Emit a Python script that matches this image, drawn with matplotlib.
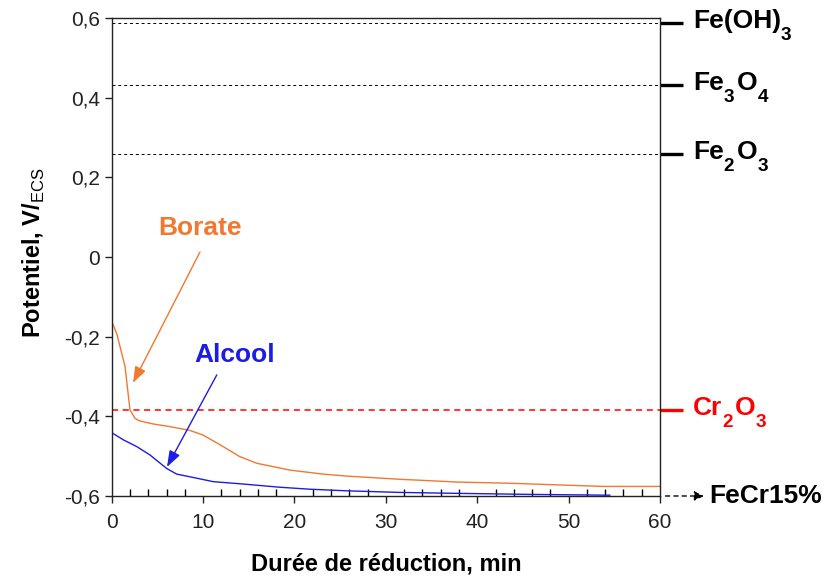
import matplotlib
matplotlib.use("Agg")
import matplotlib.pyplot as plt
import matplotlib.transforms as mtransforms

plt.rcParams['font.family'] = ['Liberation Sans', 'DejaVu Sans']
plt.rcParams['mathtext.fontset'] = 'custom'
plt.rcParams['mathtext.rm'] = 'Liberation Sans'
plt.rcParams['mathtext.bf'] = 'Liberation Sans:bold'

# potential vs. reduction time (min, V/ECS)
borate_t = [0, 0.55, 1.46, 2.0, 2.55, 3.0, 4.5, 6.4, 8.5, 10.0, 12.2, 14.0, 15.9,
            19.5, 23.1, 25.7, 31.5, 37.8, 43.6, 48.7, 53.8, 60]
borate_v = [-0.162, -0.192, -0.275, -0.384, -0.405, -0.411, -0.419, -0.426, -0.435,
            -0.447, -0.476, -0.501, -0.518, -0.535, -0.545, -0.550, -0.558, -0.565,
            -0.568, -0.572, -0.576, -0.576]

alcool_t = [0, 1.27, 2.74, 4.19, 6.02, 7.11, 9.66, 11.1, 14.4, 18.4, 21.7, 25.7,
            31.5, 36.7, 45.8, 54.5]
alcool_v = [-0.441, -0.459, -0.476, -0.497, -0.531, -0.545, -0.557, -0.564, -0.570,
            -0.578, -0.583, -0.587, -0.591, -0.593, -0.596, -0.598]

# equilibrium potentials of the oxides, formulas as (text, subscript) pieces
oxide_names = [[('Fe(OH)', False), ('3', True)],
               [('Fe', False), ('3', True), ('O', False), ('4', True)],
               [('Fe', False), ('2', True), ('O', False), ('3', True)],
               [('Cr', False), ('2', True), ('O', False), ('3', True)]]
oxide_v = [0.587, 0.432, 0.259, -0.384]
oxide_colors = ['black', 'black', 'black', 'red']

yticks = [-0.6, -0.4, -0.2, 0, 0.2, 0.4, 0.6]
ytick_labels = ['-0,6', '-0,4', '-0,2', '0', '0,2', '0,4', '0,6']
xticks = [0, 10, 20, 30, 40, 50, 60]

orange = '#f07830'
blue = '#1c1ce6'

fig = plt.figure(figsize=(8.38, 5.76), dpi=100)
ax = fig.add_axes([0.1333, 0.1389, 0.6543, 0.8298])
renderer = fig.canvas.get_renderer()


def chem_label(x, y, pieces, color, size, trans):
    # write a formula piece by piece, dropping the subscripts well below the baseline
    dx = 0
    for s, sub in pieces:
        fs = size * 0.72 if sub else size
        dy = -size * 0.55 if sub else 0
        t = ax.text(x, y, s, color=color, fontsize=fs, fontweight='bold',
                    va='center', ha='left',
                    transform=mtransforms.offset_copy(trans, fig, x=dx, y=dy,
                                                      units='points'))
        w = t.get_window_extent(renderer).width * 72 / fig.dpi
        dx += w + (size * 0.1 if sub else 0)


for v, c in zip(oxide_v, oxide_colors):
    if c == 'red':
        ax.axhline(v, color=c, lw=1.1, dashes=(4, 3))
    else:
        ax.axhline(v, color=c, lw=0.7, dashes=(3, 3))

ax.plot(borate_t, borate_v, color=orange, lw=1.0)
ax.plot(alcool_t, alcool_v, color=blue, lw=1.0)

ax.set_xlim(0, 60)
ax.set_ylim(-0.6, 0.6)
ax.set_xticks(xticks)
ax.set_xticks(range(0, 61, 2), minor=True)
ax.set_yticks(yticks)
ax.set_yticklabels(ytick_labels)
ax.tick_params(axis='both', which='major', direction='out', length=5, width=1,
               labelsize=15, colors='#222222')
ax.tick_params(axis='x', which='major', pad=7)
ax.tick_params(axis='x', which='minor', direction='in', length=5, width=1)
ax.tick_params(axis='y', which='minor', left=False)
for s in ax.spines.values():
    s.set_linewidth(1.0)
    s.set_color('#222222')

ax.set_xlabel('Durée de réduction, min', fontsize=17, fontweight='bold')
ax.xaxis.set_label_coords(0.5, -0.118)
ax.set_ylabel(r'Potentiel, V/$_{\mathrm{ECS}}$', fontsize=17, fontweight='bold')
ax.yaxis.set_label_coords(-0.118, 0.51)

# oxide markers on the right side
trans = mtransforms.blended_transform_factory(ax.transAxes, ax.transData)
for pieces, v, c in zip(oxide_names, oxide_v, oxide_colors):
    ax.plot([1.0, 1.042], [v, v], color=c, lw=2.4, transform=trans,
            clip_on=False, solid_capstyle='butt')
    chem_label(1.06, v + 0.005, pieces, c, 19, trans)

ax.annotate('', xy=(1.085, -0.6), xytext=(1.005, -0.6), xycoords=trans,
            textcoords=trans,
            arrowprops=dict(arrowstyle='-|>', color='black', lw=1.0,
                            linestyle=(0, (3, 3)), mutation_scale=14))
ax.text(1.09, -0.6, 'FeCr15%', fontsize=19, fontweight='bold', transform=trans,
        va='center', ha='left')

arrow = dict(arrowstyle='-|>,head_length=0.7,head_width=0.25', lw=1.0,
             shrinkA=0, shrinkB=0, mutation_scale=14)
ax.text(9.66, 0.073, 'Borate', color=orange, fontsize=19, fontweight='bold',
        ha='center', va='center')
ax.annotate('', xy=(2.33, -0.316), xytext=(9.66, 0.0125),
            arrowprops=dict(color=orange, **arrow))
ax.text(13.4, -0.246, 'Alcool', color=blue, fontsize=19, fontweight='bold',
        ha='center', va='center')
ax.annotate('', xy=(6.05, -0.527), xytext=(11.5, -0.296),
            arrowprops=dict(color=blue, **arrow))

fig.savefig('out.png', dpi=100)
